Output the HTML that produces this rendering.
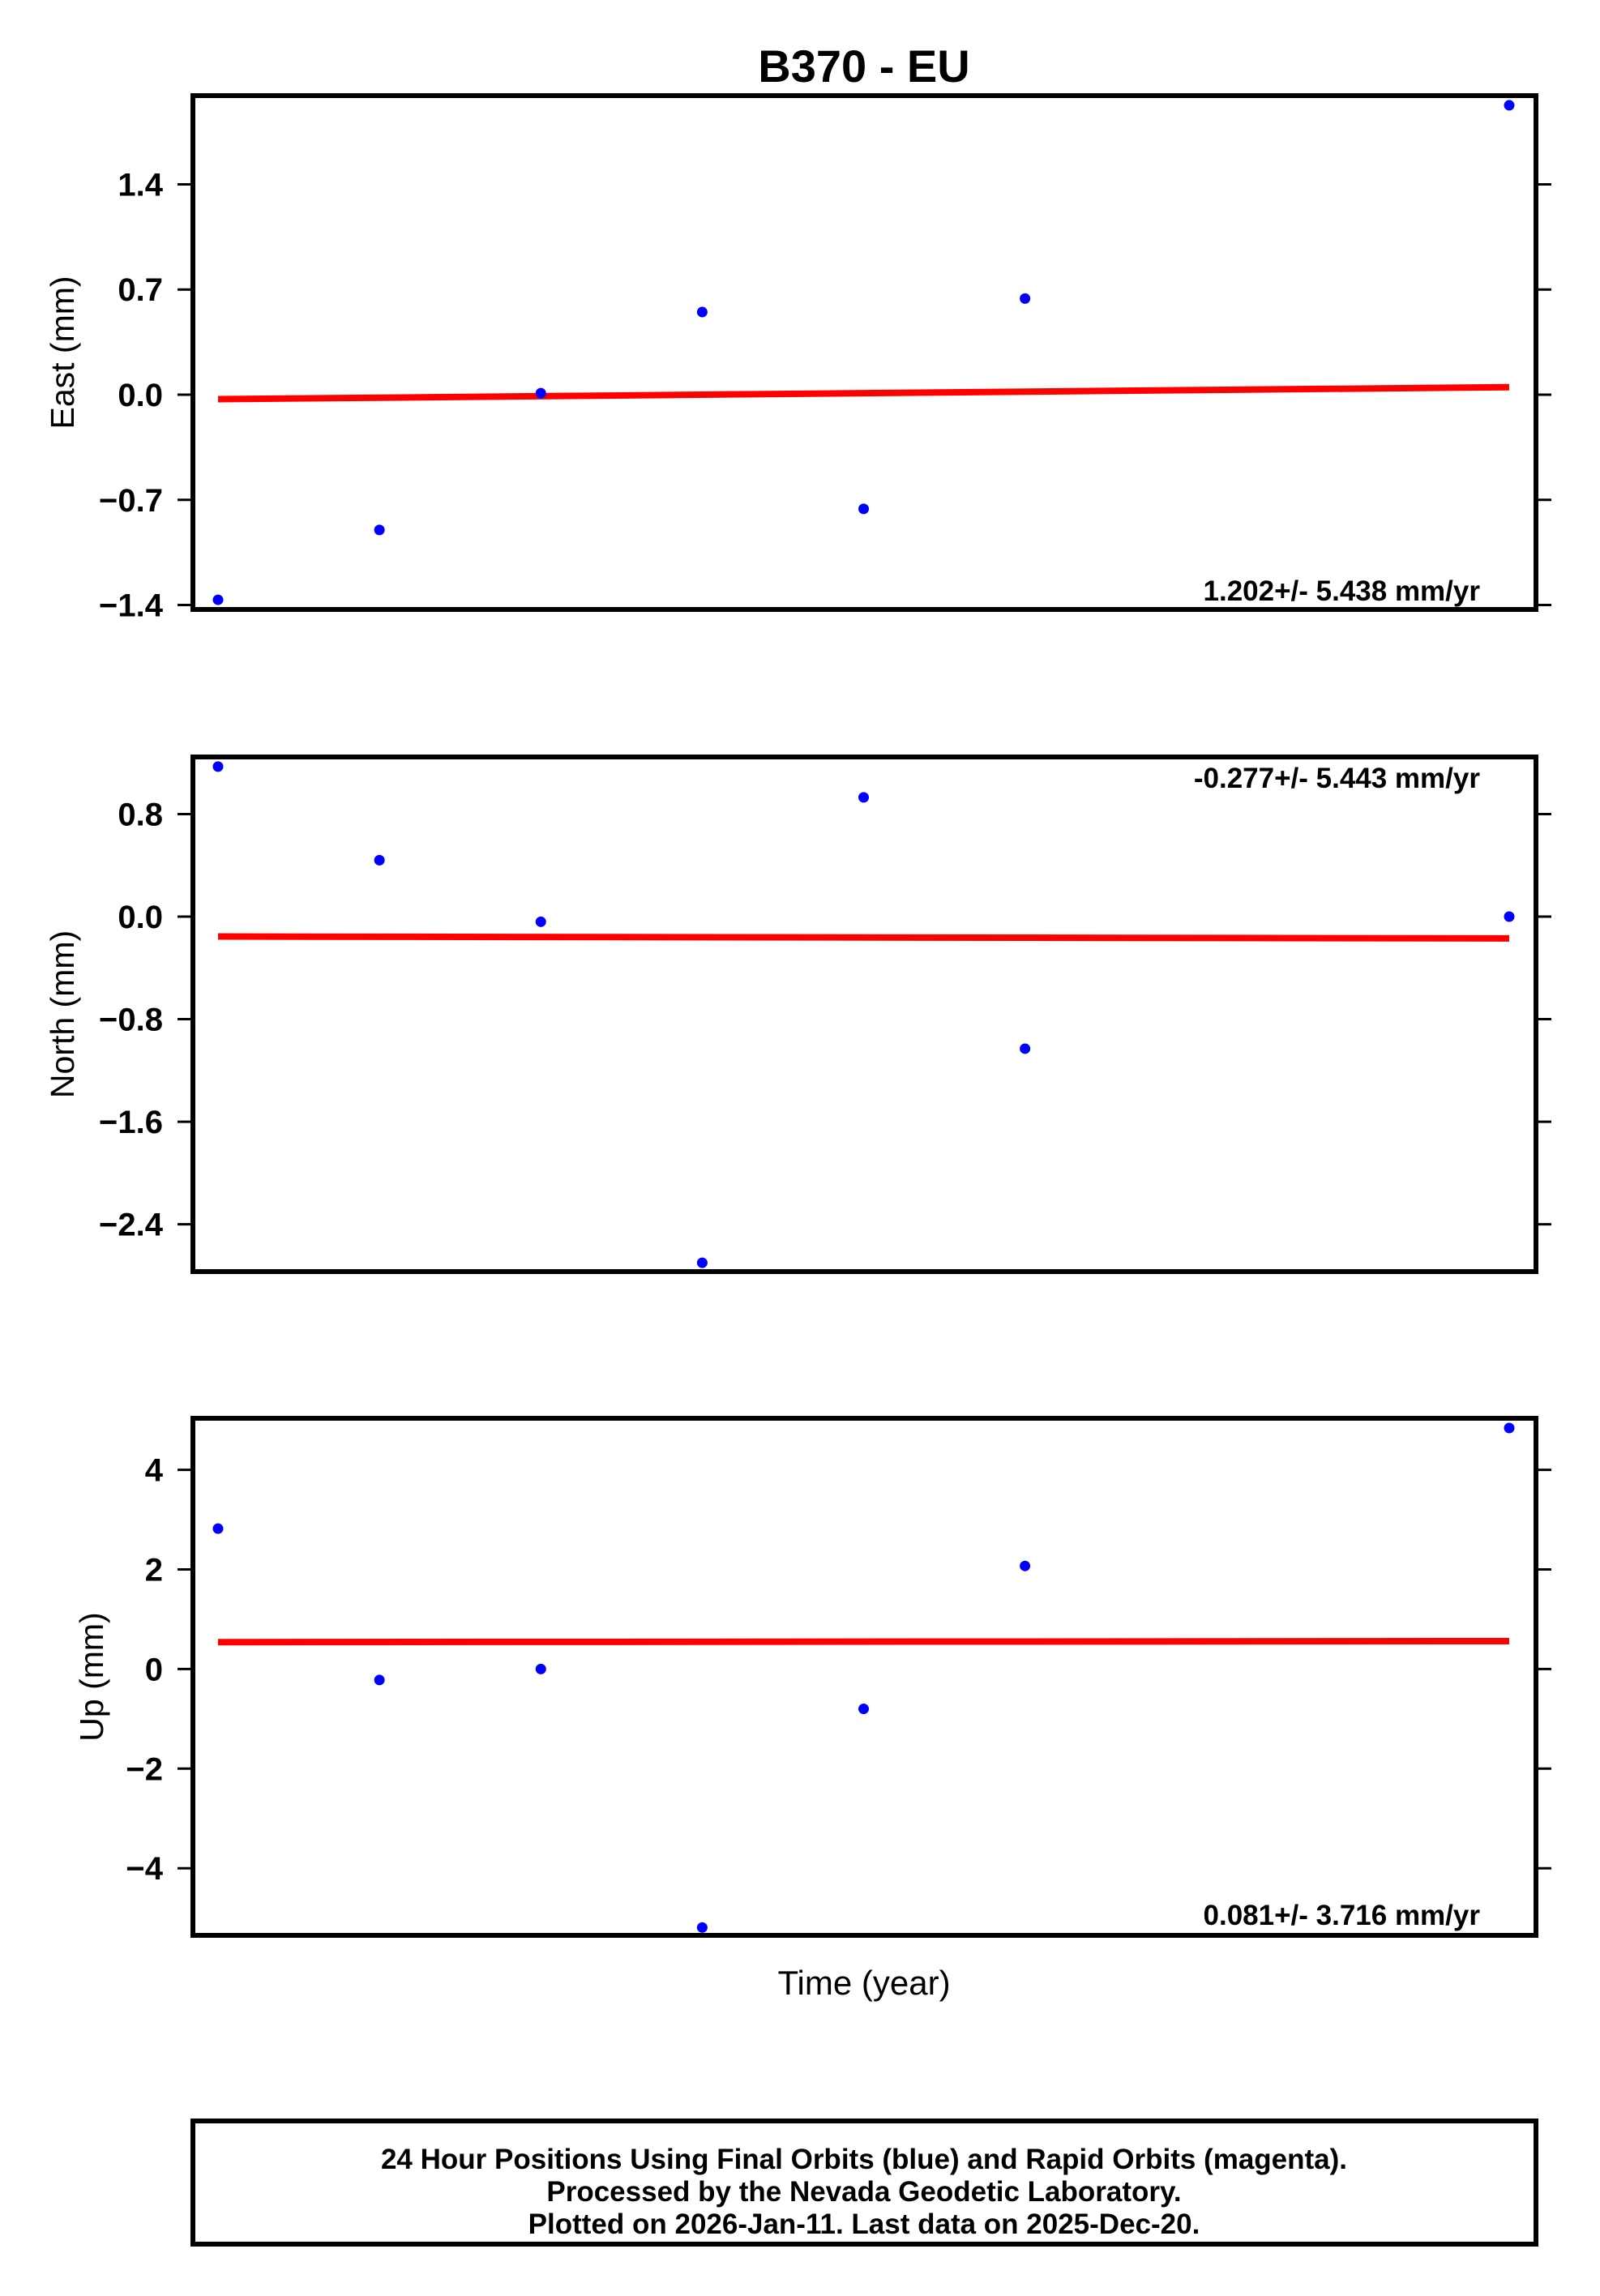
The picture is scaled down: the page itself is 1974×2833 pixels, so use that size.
<!DOCTYPE html>
<html><head><meta charset="utf-8"><title>B370 - EU</title>
<style>html,body{margin:0;padding:0;background:#fff}svg{display:block}</style></head>
<body>
<svg id="chart" xmlns="http://www.w3.org/2000/svg" width="1974" height="2833" viewBox="0 0 1974 2833" font-family="'Liberation Sans', Arial, sans-serif">
<rect width="1974" height="2833" fill="#fff"/>
<text x="1066" y="101" text-anchor="middle" font-size="56" font-weight="bold">B370 - EU</text>
<text x="1066" y="2461" text-anchor="middle" font-size="42">Time (year)</text>
<g>
<rect x="238" y="2617" width="1657" height="152" fill="none" stroke="#000" stroke-width="6"/>
<text x="1066" y="2676" text-anchor="middle" font-size="35" font-weight="bold">24 Hour Positions Using Final Orbits (blue) and Rapid Orbits (magenta).</text>
<text x="1066" y="2716" text-anchor="middle" font-size="35" font-weight="bold">Processed by the Nevada Geodetic Laboratory.</text>
<text x="1066" y="2756" text-anchor="middle" font-size="35" font-weight="bold">Plotted on 2026-Jan-11. Last data on 2025-Dec-20.</text>
</g>
<g id="panels"></g>
</svg>
<script>
// Shared time axis (days since first epoch)
const days = [0, 7, 14, 21, 28, 35, 56];
// East series
const eastValues = [-1.365, -0.90, 0.01, 0.55, -0.76, 0.64, 1.926];
const eastTicks = [1.4, 0.7, 0.0, -0.7, -1.4];
const eastTickLabels = ["1.4", "0.7", "0.0", "\u22120.7", "\u22121.4"];
const eastFit = [-0.03, 0.05];
const eastRate = "1.202+/- 5.438 mm/yr";
// North series
const northValues = [1.17, 0.44, -0.04, -2.70, 0.93, -1.03, 0.0];
const northTicks = [0.8, 0.0, -0.8, -1.6, -2.4];
const northTickLabels = ["0.8", "0.0", "\u22120.8", "\u22121.6", "\u22122.4"];
const northFit = [-0.155, -0.17];
const northRate = "-0.277+/- 5.443 mm/yr";
// Up series
const upValues = [2.82, -0.22, 0.0, -5.19, -0.80, 2.07, 4.84];
const upTicks = [4, 2, 0, -2, -4];
const upTickLabels = ["4", "2", "0", "\u22122", "\u22124"];
const upFit = [0.54, 0.56];
const upRate = "0.081+/- 3.716 mm/yr";

const NS = "http://www.w3.org/2000/svg";
const X0 = 238, X1 = 1895;
function xScale(d) { return 269 + (d - days[0]) * (1862 - 269) / (days[days.length - 1] - days[0]); }
function mk(tag, attrs, parent) {
  const e = document.createElementNS(NS, tag);
  for (const k in attrs) e.setAttribute(k, attrs[k]);
  parent.appendChild(e);
  return e;
}
const root = document.getElementById("panels");
const panels = [
  {key: "east", title: "East (mm)", top: 118, bot: 752, zeroY: 487, ppu: 185.4, vals: eastValues, ticks: eastTicks, labels: eastTickLabels, fit: eastFit, rate: eastRate, rateY: 741, titleX: 76},
  {key: "north", title: "North (mm)", top: 934, bot: 1569, zeroY: 1131, ppu: 158.2, vals: northValues, ticks: northTicks, labels: northTickLabels, fit: northFit, rate: northRate, rateY: 972, titleX: 76},
  {key: "up", title: "Up (mm)", top: 1750, bot: 2388, zeroY: 2059.4, ppu: 61.45, vals: upValues, ticks: upTicks, labels: upTickLabels, fit: upFit, rate: upRate, rateY: 2375, titleX: 112}
];
panels.forEach(p => {
  const y = v => p.zeroY - v * p.ppu;
  const g = mk("g", {}, root);
  
  
  p.ticks.forEach((t, i) => {
    const ty = y(t);
    const tl = mk("line", {x1: 219, x2: X0, y1: ty, y2: ty, stroke: "#000", "stroke-width": 3}, g);
    
    
    const tr = mk("line", {x1: X1, x2: 1914, y1: ty, y2: ty, stroke: "#000", "stroke-width": 3}, g);
    
    
    const lab = mk("text", {x: 201, y: ty + 14, "text-anchor": "end", "font-size": 40, "font-weight": "bold"}, g);
    lab.textContent = p.labels[i];
    
    
  });
  const cy = (p.top + p.bot) / 2;
  const tt = mk("text", {x: p.titleX, y: cy, "text-anchor": "middle", "font-size": 41, transform: "rotate(-90 " + p.titleX + " " + cy + ") translate(0 15)"}, g);
  tt.textContent = p.title;
  
  
  const fl = mk("line", {x1: xScale(days[0]), x2: xScale(days[days.length - 1]), y1: y(p.fit[0]), y2: y(p.fit[1]), stroke: "#f00", "stroke-width": 8}, g);
  
  
  p.vals.forEach((v, i) => {
    const c = mk("circle", {cx: xScale(days[i]), cy: y(v), r: 6.5, fill: "#00f"}, g);
    
    
  });
  const fr = mk("rect", {x: X0, y: p.top, width: X1 - X0, height: p.bot - p.top, fill: "none", stroke: "#000", "stroke-width": 6}, g);
  
  
  const rt = mk("text", {x: 1826, y: p.rateY, "text-anchor": "end", "font-size": 35, "font-weight": "bold"}, g);
  rt.textContent = p.rate;
  
  
});
</script>
</body></html>
